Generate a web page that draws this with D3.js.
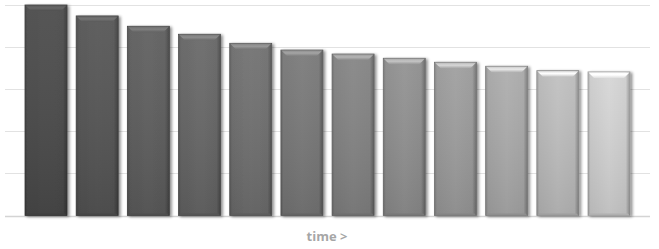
<!DOCTYPE html>
<html><head><meta charset="utf-8">
<script src="https://cdn.jsdelivr.net/npm/d3@7/dist/d3.min.js"></script>
<style>html,body{margin:0;padding:0;background:#fff;}svg{display:block;}</style>
</head><body><div id="chart"></div>
<script>
const categories = ["1","2","3","4","5","6","7","8","9","10","11","12"];
const values = [100, 94.8, 89.9, 86.1, 81.8, 78.6, 76.7, 74.7, 72.8, 70.9, 68.8, 68.2];
const barColors = ["#4b4b4b","#545454","#5d5d5d","#666666","#6f6f6f","#787878","#838383","#8f8f8f","#9c9c9c","#aaaaaa","#bdbdbd","#d2d2d2"];
const yTicks = [0, 20, 40, 60, 80, 100];
const xTitle = "time >";

const W = 659, H = 249;
const svg = d3.select("#chart").append("svg").attr("width", W).attr("height", H);
const defs = svg.append("defs");

const x = d3.scaleBand().domain(categories).range([20.4, 634.6]).paddingInner(0.18).paddingOuter(0.09);
const y = d3.scaleLinear().domain([0, 100]).range([215.5, 5]);

// gridlines
svg.append("g").selectAll("line").data(yTicks).join("line")
  .attr("x1", 5).attr("x2", 650)
  .attr("y1", d => Math.round(y(d)) + 0.5).attr("y2", d => Math.round(y(d)) + 0.5)
  .attr("stroke", d => d === 0 ? "#d4d4d4" : "#e2e2e2")
  .attr("stroke-width", d => d === 0 ? 1.5 : 1);

// shadow filter
const f = defs.append("filter").attr("id", "sh").attr("x", "-20%").attr("y", "-10%").attr("width", "140%").attr("height", "120%");
f.append("feGaussianBlur").attr("in", "SourceAlpha").attr("stdDeviation", 1.6).attr("result", "b");
f.append("feOffset").attr("in", "b").attr("dx", 1.5).attr("dy", 0.5).attr("result", "o");
f.append("feComponentTransfer").attr("in", "o").attr("result", "o2")
  .append("feFuncA").attr("type", "linear").attr("slope", 0.45);
const fm = f.append("feMerge");
fm.append("feMergeNode").attr("in", "o2");
fm.append("feMergeNode").attr("in", "SourceGraphic");

// gradients per bar
categories.forEach((c, i) => {
  const base = d3.color(barColors[i]);
  const g = defs.append("linearGradient").attr("id", "hg" + i).attr("x1", 0).attr("x2", 1).attr("y1", 0).attr("y2", 0);
  g.append("stop").attr("offset", "0%").attr("stop-color", base.darker(0.6));
  g.append("stop").attr("offset", "6%").attr("stop-color", base.darker(0.1));
  g.append("stop").attr("offset", "50%").attr("stop-color", base.brighter(0.05));
  g.append("stop").attr("offset", "90%").attr("stop-color", base.darker(0.05));
  g.append("stop").attr("offset", "100%").attr("stop-color", base.darker(1.0));
  const v = defs.append("linearGradient").attr("id", "vg" + i).attr("x1", 0).attr("x2", 0).attr("y1", 0).attr("y2", 1);
  v.append("stop").attr("offset", "0%").attr("stop-color", "#fff").attr("stop-opacity", 0.06);
  v.append("stop").attr("offset", "100%").attr("stop-color", "#000").attr("stop-opacity", 0.1);
  const t = defs.append("linearGradient").attr("id", "tg" + i).attr("x1", 0).attr("x2", 0).attr("y1", 0).attr("y2", 1);
  t.append("stop").attr("offset", "0%").attr("stop-color", base.brighter(0.5));
  t.append("stop").attr("offset", "45%").attr("stop-color", base.brighter(0.9));
  t.append("stop").attr("offset", "100%").attr("stop-color", base.brighter(0.15));
});

const bars = svg.append("g").selectAll("g").data(categories).join("g");
bars.append("rect")
  .attr("x", d => x(d)).attr("width", x.bandwidth())
  .attr("y", (d, i) => y(values[i])).attr("height", (d, i) => y(0) - y(values[i]))
  .attr("fill", (d, i) => `url(#hg${i})`)
  .attr("stroke", (d, i) => d3.color(barColors[i]).darker(0.9)).attr("stroke-width", 0.8)
  .attr("filter", "url(#sh)");
bars.append("rect")
  .attr("x", d => x(d)).attr("width", x.bandwidth())
  .attr("y", (d, i) => y(values[i])).attr("height", (d, i) => y(0) - y(values[i]))
  .attr("fill", (d, i) => `url(#vg${i})`);
// top bevel
bars.append("path")
  .attr("d", (d, i) => {
    const x0 = x(d), x1 = x(d) + x.bandwidth(), t = y(values[i]), b = 6;
    return `M${x0 + 0.5},${t + 0.5}L${x1 - 0.5},${t + 0.5}L${x1 - b},${t + b}L${x0 + b},${t + b}Z`;
  })
  .attr("fill", (d, i) => `url(#tg${i})`);
// bottom bevel
bars.append("path")
  .attr("d", (d, i) => {
    const x0 = x(d), x1 = x(d) + x.bandwidth(), bt = y(0), b = 2;
    return `M${x0 + 0.5},${bt}L${x1 - 0.5},${bt}L${x1 - b},${bt - b}L${x0 + b},${bt - b}Z`;
  })
  .attr("fill", (d, i) => d3.color(barColors[i]).darker(0.5));

svg.append("text")
  .attr("x", 327).attr("y", 241)
  .attr("text-anchor", "middle")
  .attr("font-family", "'Open Sans', sans-serif")
  .attr("font-weight", "bold")
  .attr("font-size", 13)
  .attr("fill", "#a6a6a6")
  .text(xTitle);
</script>
</body></html>
